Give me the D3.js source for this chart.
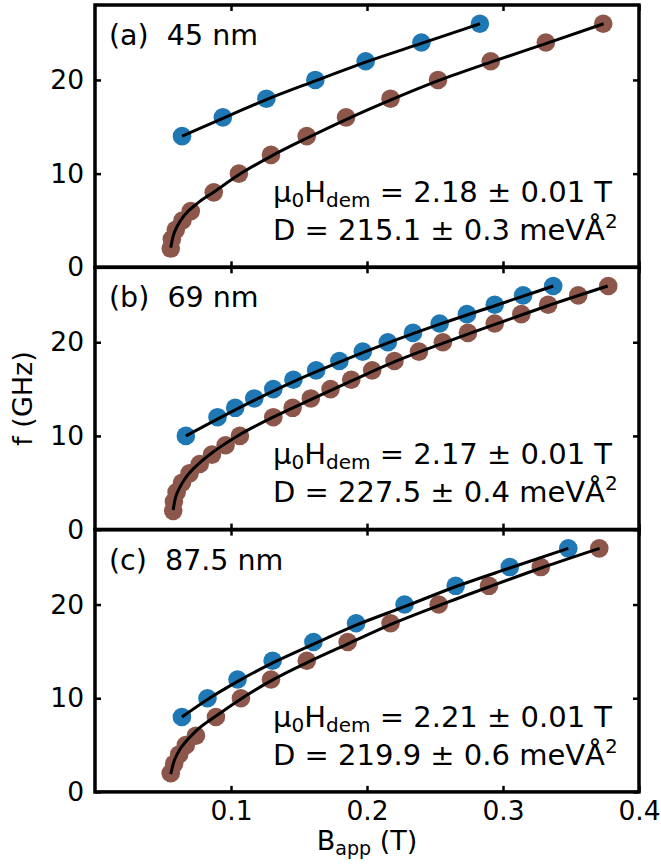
<!DOCTYPE html>
<html>
<head>
<meta charset="utf-8">
<script src="https://d3js.org/d3.v7.min.js"></script>
<style>
  body { margin: 0; background: #fff; }
  text { font-family: "DejaVu Sans", sans-serif; fill: #000; }
</style>
</head>
<body>
<div id="chart"></div>
<script>
// data: [B_app (T), f (GHz)]
var blueA = [[0.064,14],[0.094,16],[0.126,18],[0.162,20],[0.199,22],[0.240,24],[0.283,26]];
var brownA = [[0.0557,2],[0.0565,3],[0.0594,4],[0.0643,5],[0.0704,6],[0.0873,8],[0.1058,10],[0.1294,12],
  [0.1557,14],[0.1846,16],[0.2173,18],[0.2522,20],[0.2910,22],[0.3315,24],[0.3737,26]];
var blueB = [[0.0668,10],[0.0901,12],[0.1031,13],[0.1171,14],[0.1311,15],[0.1459,16],[0.1626,17],[0.1797,18],
  [0.1969,19],[0.2153,20],[0.2338,21],[0.2534,22],[0.2735,23],[0.2939,24],[0.3148,25],[0.3369,26]];
var brownB = [[0.0575,2],[0.0580,3],[0.0600,4],[0.0640,5],[0.0695,6],[0.0770,7],[0.0860,8],[0.0960,9],[0.1065,10],
  [0.1311,12],[0.1453,13],[0.1587,14],[0.1732,15],[0.1884,16],[0.2038,17],[0.2202,18],[0.2382,19],[0.2558,20],
  [0.2742,21],[0.2939,22],[0.3135,23],[0.3332,24],[0.3553,25],[0.3774,26]];
var blueC = [[0.0639,8],[0.0827,10],[0.1048,12],[0.1306,14],[0.1606,16],[0.1920,18],[0.2276,20],[0.2652,22],[0.3050,24],[0.3480,26]];
var brownC = [[0.0557,2],[0.0582,3],[0.0619,4],[0.0668,5],[0.0742,6],[0.0889,8],[0.1073,10],[0.1294,12],
  [0.1557,14],[0.1858,16],[0.2173,18],[0.2527,20],[0.2897,22],[0.3278,24],[0.3708,26]];

// fitted curves
var fitBlueA = [[0.064,14.0],[0.094,15.9],[0.126,17.9],[0.162,19.9],[0.199,21.9],[0.240,23.9],[0.283,26.0]];
var fitBrownA = [[0.0557,2.1],[0.0572,3.2],[0.0605,4.4],[0.066,5.6],[0.075,6.8],[0.088,8.1],[0.106,9.9],[0.13,11.9],
  [0.156,13.8],[0.185,15.8],[0.218,17.9],[0.252,19.9],[0.291,21.9],[0.332,23.9],[0.374,26.0]];
var fitBlueB = [[0.0668,10.0],[0.09,11.8],[0.117,13.8],[0.146,15.8],[0.18,17.9],[0.215,19.9],[0.253,21.9],[0.294,23.9],[0.337,26.0]];
var fitBrownB = [[0.0575,2.1],[0.0588,3.2],[0.062,4.4],[0.067,5.6],[0.076,7.0],[0.088,8.4],[0.106,10.1],[0.131,12.0],
  [0.159,13.9],[0.189,15.9],[0.22,17.9],[0.256,19.9],[0.294,21.9],[0.333,23.9],[0.377,26.0]];
var fitBlueC = [[0.0639,8.0],[0.083,9.9],[0.105,11.8],[0.131,13.8],[0.161,15.8],[0.192,17.8],[0.228,19.8],[0.265,21.9],[0.305,23.9],[0.348,26.0]];
var fitBrownC = [[0.0557,1.9],[0.0575,3.0],[0.061,4.2],[0.067,5.4],[0.075,6.6],[0.089,8.1],[0.107,9.9],[0.13,11.9],
  [0.156,13.8],[0.186,15.8],[0.218,17.9],[0.253,19.9],[0.29,21.9],[0.328,23.9],[0.371,26.0]];

var panelLabels = ["(a)\u00a0\u00a045 nm", "(b)\u00a0\u00a069 nm", "(c)\u00a0\u00a087.5 nm"];
var hdemValues = ["2.18 \u00b1 0.01 T", "2.17 \u00b1 0.01 T", "2.21 \u00b1 0.01 T"];
var dValues = ["215.1 \u00b1 0.3 meV\u00c5", "227.5 \u00b1 0.4 meV\u00c5", "219.9 \u00b1 0.6 meV\u00c5"];
var xTicks = [0.1, 0.2, 0.3, 0.4];
var yTicks = [0, 10, 20];

var panels = [
  {blue: blueA, brown: brownA, fitBlue: fitBlueA, fitBrown: fitBrownA},
  {blue: blueB, brown: brownB, fitBlue: fitBlueB, fitBrown: fitBrownB},
  {blue: blueC, brown: brownC, fitBlue: fitBlueC, fitBrown: fitBrownC}
];

var W = 661, H = 865;
var left = 95, right = 639, top0 = 5, ph = 262.3;
var blue = "#1f77b4", brown = "#8c564b";

var svg = d3.select("#chart").append("svg").attr("width", W).attr("height", H);

var x = d3.scaleLinear().domain([0, 0.4]).range([left, right]);

var line = d3.line().x(function(d) { return x(d[0]); }).curve(d3.curveMonotoneX);

panels.forEach(function(p, i) {
  var t = top0 + i * ph, b = t + ph;
  var y = d3.scaleLinear().domain([0, 28]).range([b, t]);
  line.y(function(d) { return y(d[1]); });
  var g = svg.append("g").attr("class", "panel");

  // markers
  g.append("g").selectAll("circle").data(p.brown).enter().append("circle")
    .attr("cx", function(d) { return x(d[0]); })
    .attr("cy", function(d) { return y(d[1]); })
    .attr("r", 9.3).style("fill", brown);
  g.append("g").selectAll("circle").data(p.blue).enter().append("circle")
    .attr("cx", function(d) { return x(d[0]); })
    .attr("cy", function(d) { return y(d[1]); })
    .attr("r", 9.3).style("fill", blue);

  // fits
  g.append("path").datum(p.fitBlue).attr("d", line)
    .style("fill", "none").style("stroke", "#000").style("stroke-width", 3);
  g.append("path").datum(p.fitBrown).attr("d", line)
    .style("fill", "none").style("stroke", "#000").style("stroke-width", 3);

  // axes, ticks pointing inward
  g.append("g").attr("transform", "translate(" + left + ",0)")
    .call(d3.axisLeft(y).tickValues(yTicks).tickSize(-6).tickPadding(11).tickFormat(d3.format("d")));
  g.append("g").attr("transform", "translate(" + right + ",0)")
    .call(d3.axisRight(y).tickValues(yTicks).tickSize(-6).tickFormat(""));
  g.append("g").attr("transform", "translate(0," + t + ")")
    .call(d3.axisTop(x).tickValues(xTicks).tickSize(-6).tickFormat(""));
  g.append("g").attr("transform", "translate(0," + b + ")")
    .call(d3.axisBottom(x).tickValues(xTicks).tickSize(-6).tickPadding(9)
      .tickFormat(i == 2 ? d3.format(".1f") : ""));
  g.selectAll(".domain").remove();
  g.selectAll(".tick line").style("stroke", "#000").style("stroke-width", 2.5);
  g.selectAll(".tick text").style("font-size", "26.5px").style("font-family", "DejaVu Sans");

  g.append("rect").attr("x", left).attr("y", t).attr("width", right - left).attr("height", ph)
    .style("fill", "none").style("stroke", "#000").style("stroke-width", 3.5);

  // panel label
  g.append("text").attr("x", 109).attr("y", t + 40).style("font-size", "28.5px").text(panelLabels[i]);

  // fit results
  var t1 = g.append("text").attr("x", 273).attr("y", t + 197).style("font-size", "29px");
  t1.append("tspan").text("\u03bc");
  t1.append("tspan").attr("dy", 5).style("font-size", "20px").text("0");
  t1.append("tspan").attr("dy", -5).text("H");
  t1.append("tspan").attr("dy", 5).style("font-size", "20px").text("dem");
  t1.append("tspan").attr("dy", -5).text(" = " + hdemValues[i]);
  var t2 = g.append("text").attr("x", 273).attr("y", t + 235).style("font-size", "29px");
  t2.append("tspan").text("D = " + dValues[i]);
  t2.append("tspan").attr("dy", -12).style("font-size", "20px").text("2");
});

// axis titles
svg.append("text").attr("transform", "translate(32," + (top0 + 1.5 * ph) + ") rotate(-90)")
  .attr("text-anchor", "middle").style("font-size", "27px").text("f (GHz)");
var xt = svg.append("text").attr("x", (left + right) / 2).attr("y", 850)
  .attr("text-anchor", "middle").style("font-size", "27px");
xt.append("tspan").text("B");
xt.append("tspan").attr("dy", 5).style("font-size", "19px").text("app");
xt.append("tspan").attr("dy", -5).text(" (T)");
</script>
</body>
</html>
